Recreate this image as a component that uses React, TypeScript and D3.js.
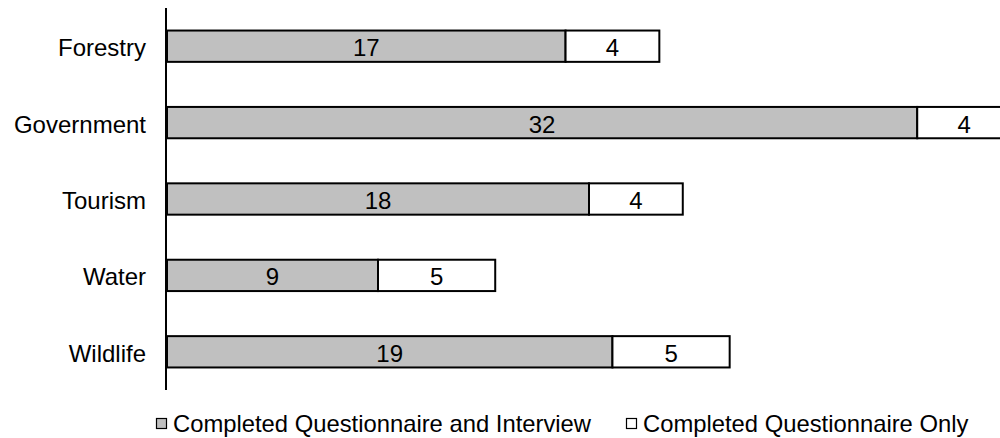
import React from "react";
import * as d3 from "d3";

const categories = ["Forestry", "Government", "Tourism", "Water", "Wildlife"];
const interviewValues = [17, 32, 18, 9, 19];
const questionnaireOnlyValues = [4, 4, 4, 5, 5];
const seriesNames = ["Completed Questionnaire and Interview", "Completed Questionnaire Only"];
const seriesColors = ["#c0c0c0", "#ffffff"];

const W = 1000;
const H = 438;
const FONT = "Arial, 'Liberation Sans', sans-serif";

export default function App() {
  const x = d3.scaleLinear().domain([0, 36]).range([167, 1011]);
  const y = d3
    .scaleBand<string>()
    .domain(categories)
    .range([8, 390])
    .paddingInner(0.59)
    .paddingOuter(0.295);
  const bw = y.bandwidth();

  const stack = categories.map((c, i) => {
    const a = interviewValues[i];
    const b = questionnaireOnlyValues[i];
    return [
      { cat: c, x0: 0, x1: a, v: a, s: 0 },
      { cat: c, x0: a, x1: a + b, v: b, s: 1 },
    ];
  });

  const legendX = [156, 626];

  return (
    <svg
      width={W}
      height={H}
      style={{ position: "absolute", left: 0, top: 0, display: "block" }}
      fontFamily={FONT}
    >
      <rect x={0} y={0} width={W} height={H} fill="#ffffff" />
      {stack.map((segs) =>
        segs.map((d) => {
          const yy = y(d.cat)!;
          return (
            <g key={d.cat + d.s}>
              <rect
                x={x(d.x0)}
                y={yy}
                width={x(d.x1) - x(d.x0)}
                height={bw}
                fill={seriesColors[d.s]}
                stroke="#000"
                strokeWidth={2}
              />
              <text
                x={(x(d.x0) + x(d.x1)) / 2}
                y={yy + bw / 2 + 10}
                textAnchor="middle"
                fontSize={24}
                fill="#000"
              >
                {d.v}
              </text>
            </g>
          );
        })
      )}
      <line x1={166} x2={166} y1={8} y2={390} stroke="#000" strokeWidth={2} />
      {categories.map((c) => (
        <text
          key={c}
          x={146}
          y={y(c)! + bw / 2 + 10}
          textAnchor="end"
          fontSize={24}
          fill="#000"
        >
          {c}
        </text>
      ))}
      {seriesNames.map((n, i) => (
        <g key={n}>
          <rect
            x={legendX[i] + 0.5}
            y={418.5}
            width={10}
            height={10}
            fill={seriesColors[i]}
            stroke="#000"
            strokeWidth={1.2}
          />
          <text x={legendX[i] + 17} y={432} fontSize={23.8} fill="#000">
            {n}
          </text>
        </g>
      ))}
    </svg>
  );
}
